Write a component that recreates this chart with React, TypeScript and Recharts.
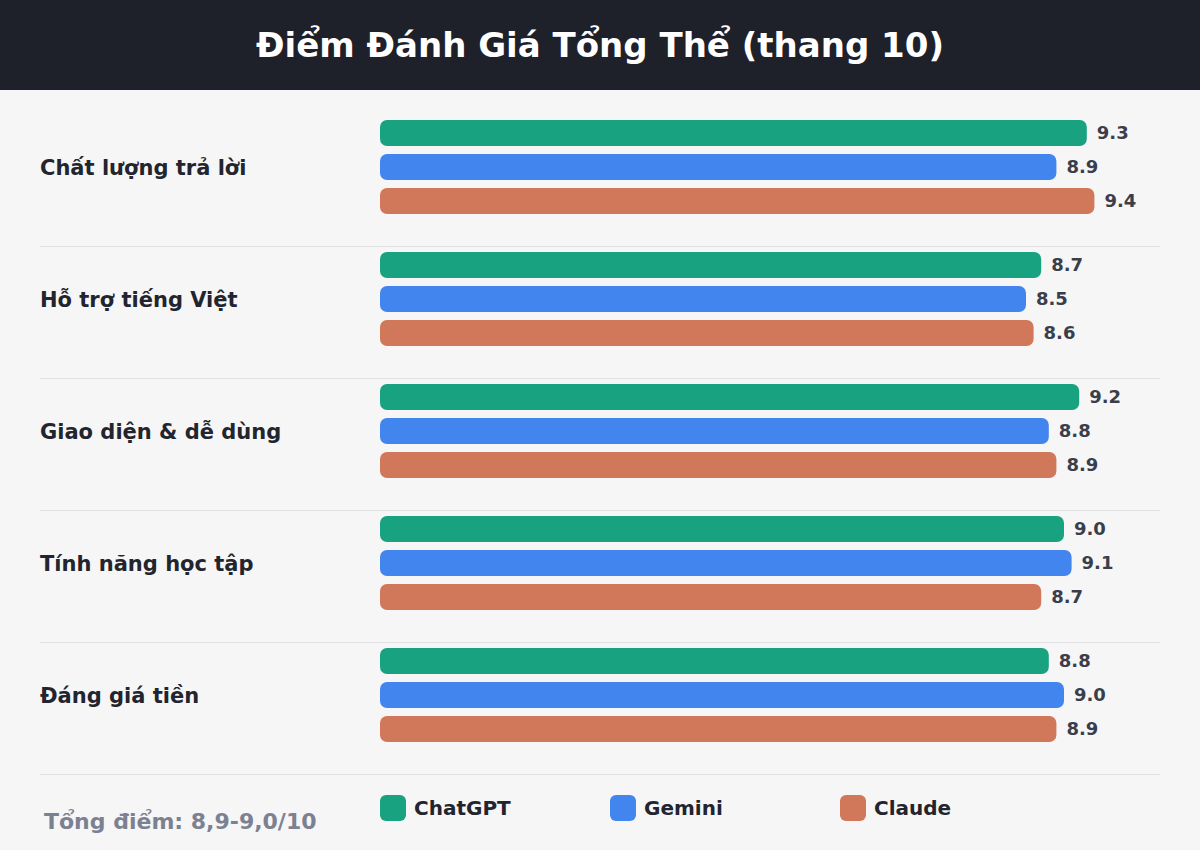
import React from "react";
import { BarChart, Bar, XAxis, YAxis, LabelList } from "recharts";

const categories = [
  "Chất lượng trả lời",
  "Hỗ trợ tiếng Việt",
  "Giao diện & dễ dùng",
  "Tính năng học tập",
  "Đáng giá tiền",
];
const chatgptScores = [9.3, 8.7, 9.2, 9.0, 8.8];
const geminiScores = [8.9, 8.5, 8.8, 9.1, 9.0];
const claudeScores = [9.4, 8.6, 8.9, 8.7, 8.9];

const seriesNames = ["ChatGPT", "Gemini", "Claude"];
const seriesKeys = ["chatgpt", "gemini", "claude"];
const seriesColors = ["#18a27f", "#4385ef", "#d2785a"];

const title = "Điểm Đánh Giá Tổng Thể (thang 10)";
const footnote = "Tổng điểm: 8,9-9,0/10";

const data = categories.map((name, i) => ({
  name,
  chatgpt: chatgptScores[i],
  gemini: geminiScores[i],
  claude: claudeScores[i],
}));

const FONT = "'DejaVu Sans', sans-serif";

const CategoryTick = (props: any) => {
  const { y, payload } = props;
  return (
    <g>
      <text
        x={40}
        y={y}
        dy="0.36em"
        fill="#23252e"
        fontSize={21}
        fontWeight={700}
        fontFamily={FONT}
        textAnchor="start"
      >
        {payload.value}
      </text>
      <line x1={40} x2={1160} y1={y + 79.5} y2={y + 79.5} stroke="#e2e2e4" strokeWidth={1} />
    </g>
  );
};

const LegendBlock = () => (
  <div style={{ position: "absolute", left: 380, top: 795, display: "flex", fontFamily: FONT }}>
    {seriesNames.map((n, i) => (
      <div key={n} style={{ width: 230, display: "flex", alignItems: "center" }}>
        <div
          style={{
            width: 26,
            height: 26,
            borderRadius: 6,
            background: seriesColors[i],
            marginRight: 8,
          }}
        />
        <span style={{ fontSize: 20, fontWeight: 700, color: "#23252e" }}>{n}</span>
      </div>
    ))}
  </div>
);

export default function App() {
  return (
    <div
      style={{
        position: "absolute",
        left: 0,
        top: 0,
        width: 1200,
        height: 850,
        background: "#f6f6f6",
        fontFamily: FONT,
        overflow: "hidden",
      }}
    >
      <div
        style={{
          position: "absolute",
          left: 0,
          top: 0,
          width: 1200,
          height: 90,
          background: "#1e202a",
          color: "#ffffff",
          fontSize: 34,
          fontWeight: 700,
          textAlign: "center",
          lineHeight: "90px",
        }}
      >
        {title}
      </div>
      <div style={{ position: "absolute", left: 0, top: 0 }}>
        <BarChart
          width={1200}
          height={850}
          data={data}
          layout="vertical"
          margin={{ top: 101, bottom: 89, left: 40, right: 60 }}
          barSize={26}
          barGap={8}
        >
          <XAxis type="number" domain={[0, 10]} hide />
          <YAxis
            type="category"
            dataKey="name"
            width={340}
            axisLine={false}
            tickLine={false}
            tick={<CategoryTick />}
            interval={0}
          />
          {seriesKeys.map((k, i) => (
            <Bar key={k} dataKey={k} name={seriesNames[i]} fill={seriesColors[i]} radius={7} isAnimationActive={false}>
              <LabelList
                dataKey={k}
                position="right"
                offset={10}
                formatter={(v: any) => Number(v).toFixed(1)}
                style={{ fill: "#3b3e4a", fontSize: 18, fontWeight: 700, fontFamily: FONT }}
              />
            </Bar>
          ))}
        </BarChart>
      </div>
      <LegendBlock />
      <div
        style={{
          position: "absolute",
          left: 44,
          top: 811,
          fontSize: 22,
          lineHeight: "22px",
          fontWeight: 700,
          color: "#7c8192",
        }}
      >
        {footnote}
      </div>
    </div>
  );
}
